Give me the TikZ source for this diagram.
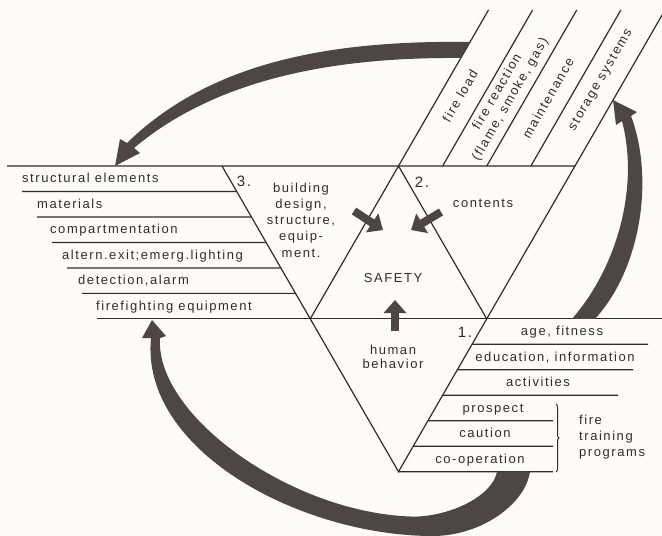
\documentclass[tikz,border=0pt]{standalone}
\usepackage{fontspec}
\usetikzlibrary{calc,arrows.meta,decorations.pathreplacing}
\newfontfamily\lettering[LetterSpace=12]{Liberation Sans}
\definecolor{paper}{HTML}{FCFBF7}
\definecolor{ink}{HTML}{332B2B}
\definecolor{band}{HTML}{4E4545}
\tikzset{
  rule/.style={draw=ink, line width=1.2pt},
  lbl/.style={inner sep=0pt, text=ink, font=\lettering\fontsize{13}{16.3}\selectfont},
  numlbl/.style={lbl, font=\lettering\fontsize{15}{16}\selectfont},
  blockarrow/.style={draw=band, line width=8pt, -{Triangle[width=22pt,length=13pt]}},
}

\begin{document}
\begin{tikzpicture}[x=1pt,y=-1pt]
\fill[paper] (0,0) rectangle (662,536);
\useasboundingbox (0,0) rectangle (662,536);

\coordinate (A) at (222,166);
\coordinate (B) at (575,166);
\coordinate (C) at (398.5,471.7);
\coordinate (AB) at ($(A)!0.5!(B)$);
\coordinate (AC) at ($(A)!0.5!(C)$);
\coordinate (BC) at ($(B)!0.5!(C)$);

\draw[rule] (7,166) -- (B) -- (C) -- (A);
\draw[rule] (AC) -- (AB) -- (BC);
\draw[rule] (97,318.85) -- (662,318.85);

\foreach \k in {1,...,5}
  \draw[rule] (7+15*\k,166+25.475*\k) -- ($(A)!\k/6!(AC)$);

\foreach \j/\xe in {1/648,2/633,3/618,4/553,5/553,6/553}
  \draw[rule] ($(BC)!\j/6!(C)$) -- (\xe,318.85+25.475*\j);

\foreach \i in {0,...,4}
  \draw[rule] (398.5+44.125*\i,166) -- ++(90,-156);

\draw[rule, line width=1pt, decorate, decoration={brace,amplitude=3pt}] (556,404) -- (556,472);

\node[lbl, anchor=base west] (structural) at (22,182.7) {structural elements};
\node[lbl, anchor=base west] (materials) at (37,208.2) {materials};
\node[lbl, anchor=base west] (compartment) at (50,233.7) {compartmentation};
\node[lbl, anchor=base west] (altern) at (62,259.2) {altern.exit;emerg.lighting};
\node[lbl, anchor=base west] (detection) at (78,284.6) {detection,alarm};
\node[lbl, anchor=base west] (firefighting) at (96,310.1) {firefighting equipment};

\node[lbl, anchor=base] (age) at (562,335.6) {age, fitness};
\node[lbl, anchor=base] (education) at (555,361.1) {education, information};
\node[lbl, anchor=base] (activities) at (538,386.5) {activities};
\node[lbl, anchor=base] (prospect) at (493,412) {prospect};
\node[lbl, anchor=base] (caution) at (485,437.5) {caution};
\node[lbl, anchor=base] (cooperation) at (480,463) {co-operation};
\node[lbl, anchor=west, align=left] (firetraining) at (579,437) {fire\\training\\programs};

\node[lbl, rotate=60] (fireload) at (460,96) {fire load};
\node[lbl, rotate=60, align=center, font=\lettering\fontsize{13}{15}\selectfont] (firereaction) at (504,96) {fire reaction\\(flame, smoke, gas)};
\node[lbl, rotate=60] (maintenance) at (548,98) {maintenance};
\node[lbl, rotate=60] (storage) at (601,80) {storage systems};

\node[lbl, align=center] (building) at (301,220) {building\\design,\\structure,\\equip-\\ment.};
\node[lbl, anchor=base] (contents) at (483,207) {contents};
\node[lbl, anchor=base] (safety) at (393,282) {SAFETY};
\node[lbl, align=center, font=\lettering\fontsize{13}{14.5}\selectfont] (human) at (393,357) {human\\behavior};
\node[numlbl, anchor=base] (three) at (244,186) {3.};
\node[numlbl, anchor=base] (two) at (422,187) {2.};
\node[numlbl, anchor=base] (one) at (465,337) {1.};

\coordinate (from building) at (354,211);
\coordinate (to building) at (383,230);
\coordinate (from contents) at (441,212);
\coordinate (to contents) at (411,230);
\coordinate (from human) at (395,331);
\coordinate (to human) at (395,300);
\draw[blockarrow] (from building) -- (to building);
\draw[blockarrow] (from contents) -- (to contents);
\draw[blockarrow] (from human) -- (to human);

\fill[band] (470,42) .. controls (330,40) and (210,62) .. (127,143)
  -- (120,139) -- (115,166) -- (140,153)
  -- (134,148) .. controls (215,80) and (330,57) .. (460,58) -- cycle;

\fill[band] (572,318.85) .. controls (615,270) and (640,190) .. (622,121)
  -- (616,125) -- (613,100) -- (637,112)
  -- (631,116) .. controls (655,180) and (640,270) .. (595,318.85) -- cycle;

\fill[band] (497,471.7) .. controls (492,498) and (445,518) .. (410,516.5)
  .. controls (290,512) and (155,415) .. (160,338)
  -- (166,336) -- (152,320) -- (142,338)
  -- (151,338) .. controls (140,450) and (300,536) .. (433,536)
  .. controls (480,536) and (525,505) .. (530,471.7) -- cycle;
\end{tikzpicture}
\end{document}
